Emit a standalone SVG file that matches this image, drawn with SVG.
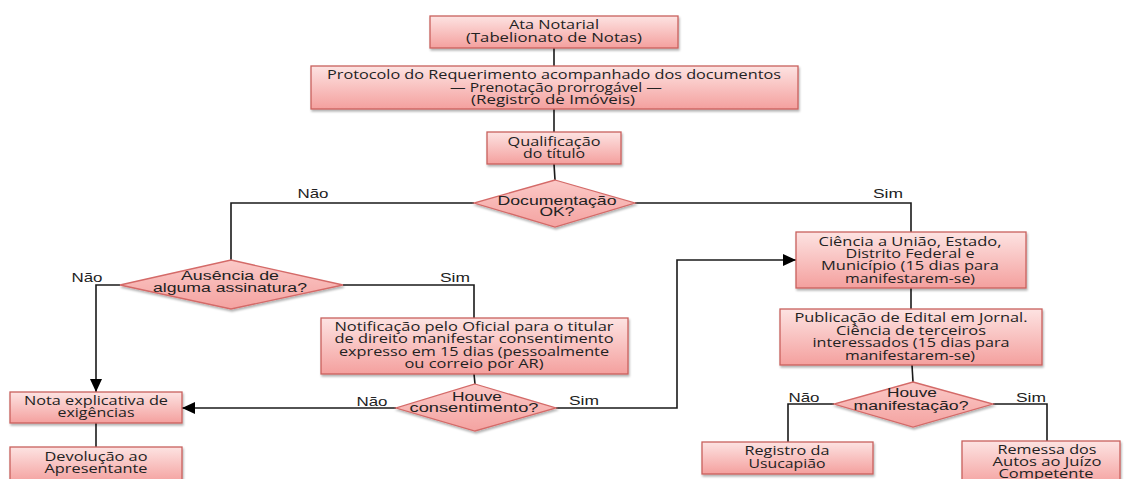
<svg xmlns="http://www.w3.org/2000/svg" width="1124" height="479" viewBox="0 0 1124 479">
<style>
.box{fill:url(#gb);stroke:#c9605c;stroke-width:1.3;filter:url(#sh)}
.dia{fill:url(#gd);stroke:#d46a68;stroke-width:1.3;filter:url(#sh)}
.t{font-family:"Open Sans","Liberation Sans",sans-serif;font-size:12px;fill:#222;text-anchor:middle}
.a{font-family:"Liberation Sans",Arial,sans-serif;font-size:12.5px;fill:#222;text-anchor:middle}
.ln{fill:none;stroke:#1a1a1a;stroke-width:1.6}
</style>
<defs>
<linearGradient id="gb" x1="0" y1="0" x2="0" y2="1"><stop offset="0" stop-color="#fde3e2"/><stop offset="1" stop-color="#f4a09e"/></linearGradient>
<linearGradient id="gd" x1="0" y1="0" x2="0" y2="1"><stop offset="0" stop-color="#fbc9c7"/><stop offset="1" stop-color="#f4a3a1"/></linearGradient>
<filter id="sh" x="-10%" y="-10%" width="120%" height="130%"><feDropShadow dx="1" dy="2" stdDeviation="1.2" flood-color="#000" flood-opacity="0.3"/></filter>
<marker id="ar" markerUnits="userSpaceOnUse" markerWidth="14" markerHeight="12" refX="13" refY="6" orient="auto"><path d="M0,0 L13,6 L0,12 z" fill="#000"/></marker>
</defs>
<rect width="1124" height="479" fill="#fff"/>
<g id="connectors">
<path class="ln" d="M554,48 V66"/>
<path class="ln" d="M554,109 V132"/>
<path class="ln" d="M554,164 L555,180"/>
<path class="ln" d="M474,203 H231 V260"/>
<path class="ln" d="M635,203 H911 V232"/>
<path class="ln" d="M120,285 H96 V392" marker-end="url(#ar)"/>
<path class="ln" d="M343,285 H474 V318"/>
<path class="ln" d="M474,374 L475,384"/>
<path class="ln" d="M396,408 H182" marker-end="url(#ar)"/>
<path class="ln" d="M556,408 H677 V260 H796" marker-end="url(#ar)"/>
<path class="ln" d="M911,288 V309"/>
<path class="ln" d="M912,365 L913,382"/>
<path class="ln" d="M834,404 H788 V442"/>
<path class="ln" d="M993,404 H1047 V441"/>
<path class="ln" d="M96,423 V447"/>
<text class="a" x="313" y="198" textLength="31" lengthAdjust="spacingAndGlyphs">Não</text>
<text class="a" x="888" y="198" textLength="30" lengthAdjust="spacingAndGlyphs">Sim</text>
<text class="a" x="87" y="282" textLength="31" lengthAdjust="spacingAndGlyphs">Não</text>
<text class="a" x="455" y="282" textLength="30" lengthAdjust="spacingAndGlyphs">Sim</text>
<text class="a" x="372" y="406" textLength="31" lengthAdjust="spacingAndGlyphs">Não</text>
<text class="a" x="584" y="405" textLength="30" lengthAdjust="spacingAndGlyphs">Sim</text>
<text class="a" x="804" y="402" textLength="31" lengthAdjust="spacingAndGlyphs">Não</text>
<text class="a" x="1031" y="402" textLength="30" lengthAdjust="spacingAndGlyphs">Sim</text>
</g>
<g id="ata">
<rect class="box" x="430" y="16" width="248" height="32"/>
<text class="t" x="554" y="29" textLength="90" lengthAdjust="spacingAndGlyphs">Ata Notarial</text>
<text class="t" x="554" y="42" textLength="176" lengthAdjust="spacingAndGlyphs">(Tabelionato de Notas)</text>
</g>
<g id="protocolo">
<rect class="box" x="311" y="66" width="487" height="43"/>
<text class="t" x="554" y="79" textLength="454" lengthAdjust="spacingAndGlyphs">Protocolo do Requerimento  acompanhado dos documentos</text>
<text class="t" x="556" y="92" textLength="212" lengthAdjust="spacingAndGlyphs">— Prenotação prorrogável —</text>
<text class="t" x="553" y="104" textLength="164" lengthAdjust="spacingAndGlyphs">(Registro de Imóveis)</text>
</g>
<g id="qualificacao">
<rect class="box" x="487" y="132" width="134" height="32"/>
<text class="t" x="554" y="146" textLength="93" lengthAdjust="spacingAndGlyphs">Qualificação</text>
<text class="t" x="554" y="158" textLength="62" lengthAdjust="spacingAndGlyphs">do título</text>
</g>
<g id="documentacao">
<polygon class="dia" points="555,180 635,203 555,227 474,203"/>
<text class="a" x="557" y="205" textLength="119" lengthAdjust="spacingAndGlyphs">Documentação</text>
<text class="a" x="557" y="216" textLength="35" lengthAdjust="spacingAndGlyphs">OK?</text>
</g>
<g id="ausencia">
<polygon class="dia" points="231,260 343,285 231,309 120,285"/>
<text class="a" x="230" y="280" textLength="98" lengthAdjust="spacingAndGlyphs">Ausência  de</text>
<text class="a" x="230" y="292" textLength="154" lengthAdjust="spacingAndGlyphs">alguma  assinatura?</text>
</g>
<g id="notificacao">
<rect class="box" x="321" y="318" width="307" height="56"/>
<text class="t" x="474" y="331" textLength="279" lengthAdjust="spacingAndGlyphs">Notificação pelo Oficial para o titular</text>
<text class="t" x="474" y="343" textLength="279" lengthAdjust="spacingAndGlyphs">de direito manifestar consentimento</text>
<text class="t" x="474" y="356" textLength="270" lengthAdjust="spacingAndGlyphs">expresso em 15 dias (pessoalmente</text>
<text class="t" x="474" y="368" textLength="139" lengthAdjust="spacingAndGlyphs">ou correio por AR)</text>
</g>
<g id="consentimento">
<polygon class="dia" points="475,384 556,408 475,431 396,408"/>
<text class="a" x="477" y="401" textLength="50" lengthAdjust="spacingAndGlyphs">Houve</text>
<text class="a" x="474" y="412" textLength="129" lengthAdjust="spacingAndGlyphs">consentimento?</text>
</g>
<g id="nota">
<rect class="box" x="10" y="392" width="172" height="31"/>
<text class="t" x="96" y="405" textLength="144" lengthAdjust="spacingAndGlyphs">Nota explicativa de</text>
<text class="t" x="96" y="417" textLength="77" lengthAdjust="spacingAndGlyphs">exigências</text>
</g>
<g id="devolucao">
<rect class="box" x="10" y="447" width="172" height="36"/>
<text class="t" x="96" y="461" textLength="103" lengthAdjust="spacingAndGlyphs">Devolução ao</text>
<text class="t" x="96" y="473" textLength="103" lengthAdjust="spacingAndGlyphs">Apresentante</text>
</g>
<g id="ciencia">
<rect class="box" x="796" y="232" width="230" height="56"/>
<text class="t" x="910" y="246" textLength="183" lengthAdjust="spacingAndGlyphs">Ciência a União, Estado,</text>
<text class="t" x="910" y="258" textLength="129" lengthAdjust="spacingAndGlyphs">Distrito Federal e</text>
<text class="t" x="910" y="270" textLength="178" lengthAdjust="spacingAndGlyphs">Município (15 dias para</text>
<text class="t" x="910" y="283" textLength="130" lengthAdjust="spacingAndGlyphs">manifestarem-se)</text>
</g>
<g id="publicacao">
<rect class="box" x="780" y="309" width="262" height="56"/>
<text class="t" x="911" y="322" textLength="233" lengthAdjust="spacingAndGlyphs">Publicação de Edital em Jornal.</text>
<text class="t" x="911" y="335" textLength="150" lengthAdjust="spacingAndGlyphs">Ciência de terceiros</text>
<text class="t" x="911" y="347" textLength="197" lengthAdjust="spacingAndGlyphs">interessados (15 dias para</text>
<text class="t" x="910" y="360" textLength="130" lengthAdjust="spacingAndGlyphs">manifestarem-se)</text>
</g>
<g id="manifestacao">
<polygon class="dia" points="913,382 993,404 913,427 834,404"/>
<text class="a" x="912" y="397" textLength="50" lengthAdjust="spacingAndGlyphs">Houve</text>
<text class="a" x="911" y="410" textLength="115" lengthAdjust="spacingAndGlyphs">manifestação?</text>
</g>
<g id="registro">
<rect class="box" x="702" y="442" width="171" height="32"/>
<text class="t" x="787" y="455" textLength="85" lengthAdjust="spacingAndGlyphs">Registro da</text>
<text class="t" x="787" y="468" textLength="77" lengthAdjust="spacingAndGlyphs">Usucapião</text>
</g>
<g id="remessa">
<rect class="box" x="962" y="441" width="158" height="45"/>
<text class="t" x="1047" y="454" textLength="99" lengthAdjust="spacingAndGlyphs">Remessa dos</text>
<text class="t" x="1047" y="466" textLength="109" lengthAdjust="spacingAndGlyphs">Autos ao Juízo</text>
<text class="t" x="1046" y="478" textLength="95" lengthAdjust="spacingAndGlyphs">Competente</text>
</g>
</svg>
